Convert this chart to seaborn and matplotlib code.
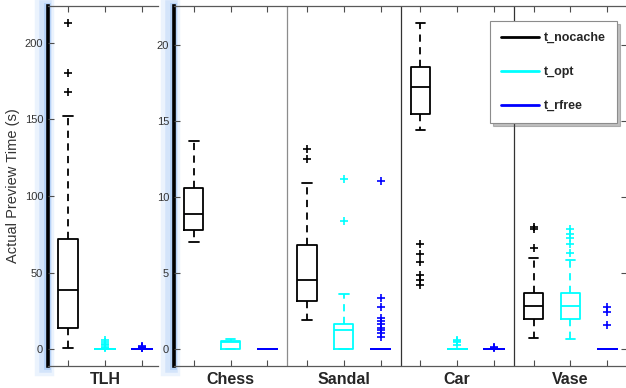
import numpy as np
import pandas as pd
import seaborn as sns
import matplotlib.pyplot as plt
import matplotlib.patheffects as pe
from matplotlib.lines import Line2D

# values (seconds); one small list per box
methods = ["t_nocache", "t_opt", "t_rfree"]
colors = ["black", "#00ffff", "#0000ff"]
scenes_right = ["Chess", "Sandal", "Car", "Vase"]

tlh_nocache = [1, 4, 8, 11, 13.7, 20, 27, 33, 38.6, 47, 55, 64, 72, 152, 168, 180, 213]
tlh_opt = [0.0] * 19 + [0.8, 1.5, 2.5, 3.5, 4.5, 5.8]
tlh_rfree = [0.0] * 13 + [0.5, 1.0, 1.5, 2.0]

chess_nocache = [7.04, 7.4, 7.83, 8.3, 8.88, 9.6, 10.6, 12.0, 13.7]
chess_opt = [0, 0, 0, 0.2, 0.5, 0.52, 0.55, 0.6, 0.66]
chess_rfree = [0.01, 0.015, 0.02, 0.02, 0.02, 0.025, 0.03, 0.03, 0.035]

sandal_nocache = [1.95, 2.3, 2.7, 3.0, 3.18, 3.6, 4.0, 4.3, 4.58, 5.2, 5.8, 6.4, 6.84,
                  8.6, 10.97, 12.5, 13.16]
sandal_opt = [0, 0, 0, 0, 0, 0.4, 0.8, 1.0, 1.25, 1.35, 1.45, 1.6, 1.69, 2.5, 3.66, 8.44, 11.18]
sandal_rfree = [0.02] * 31 + [0.81, 1.1, 1.25, 1.4, 1.64, 1.86, 2.08, 2.78, 3.38, 11.07]

car_nocache = [4.2, 4.54, 4.87, 5.75, 6.3, 6.95, 14.45, 15.5, 15.8, 16.1, 16.4, 16.7, 16.9,
               17.1, 17.3, 17.5, 17.7, 17.9, 18.1, 18.3, 18.45, 18.6, 19.0, 19.5, 20.0,
               20.5, 21.0, 21.3, 21.5]
car_opt = [0.0] * 13 + [0.3, 0.45, 0.55, 0.62]
car_rfree = [0.05] * 13 + [0.1, 0.12]

vase_nocache = [0.74, 1.1, 1.4, 1.6, 1.8, 2.02, 2.2, 2.4, 2.55, 2.7, 2.83, 3.0, 3.2, 3.4,
                3.55, 3.7, 4.5, 6.03, 6.69, 7.9, 8.05]
vase_opt = [0.7, 1.0, 1.3, 1.5, 1.7, 1.9, 2.02, 2.2, 2.35, 2.5, 2.6, 2.7, 2.83, 3.0, 3.15,
            3.3, 3.45, 3.6, 3.7, 5.86, 6.34, 6.9, 7.34, 7.6, 7.94]
vase_rfree = [0.02] * 13 + [1.58, 2.45, 2.78]

box_data = {
    ("TLH", "t_nocache"): tlh_nocache, ("TLH", "t_opt"): tlh_opt, ("TLH", "t_rfree"): tlh_rfree,
    ("Chess", "t_nocache"): chess_nocache, ("Chess", "t_opt"): chess_opt, ("Chess", "t_rfree"): chess_rfree,
    ("Sandal", "t_nocache"): sandal_nocache, ("Sandal", "t_opt"): sandal_opt, ("Sandal", "t_rfree"): sandal_rfree,
    ("Car", "t_nocache"): car_nocache, ("Car", "t_opt"): car_opt, ("Car", "t_rfree"): car_rfree,
    ("Vase", "t_nocache"): vase_nocache, ("Vase", "t_opt"): vase_opt, ("Vase", "t_rfree"): vase_rfree,
}

rows = []
for (scene, method), vals in box_data.items():
    for v in vals:
        rows.append({"scene": scene, "method": method, "time": v})
df = pd.DataFrame(rows)

sns.set_style("white")
plt.rcParams["font.family"] = ["Liberation Sans", "DejaVu Sans"]

fig = plt.figure(figsize=(6.26, 3.88), dpi=100)
W, H = 626.0, 388.0
ax_l = fig.add_axes([48 / W, 22 / H, 110 / W, 360 / H])
ax_r = fig.add_axes([174 / W, 22 / H, 453 / W, 360 / H])

box_kws = dict(x="scene", y="time", hue="method", hue_order=methods, palette=colors,
               fill=False, width=0.975, gap=0.48, whis=1.5, linewidth=1.3,
               flierprops=dict(marker="+", markersize=6, markeredgewidth=1.2),
               whiskerprops=dict(linestyle=(0, (4, 3))), legend=False)

sns.boxplot(data=df[df.scene == "TLH"], order=["TLH"], ax=ax_l, **box_kws)
sns.boxplot(data=df[df.scene != "TLH"], order=scenes_right, ax=ax_r, **box_kws)

ax_l.set_xlim(-0.5, 0.465)
ax_l.set_ylim(-11, 224)
ax_l.set_yticks([0, 50, 100, 150, 200])
ax_r.set_xlim(-0.5, 3.5)
ax_r.set_ylim(-1.1, 22.6)
ax_r.set_yticks([0, 5, 10, 15, 20])

for i, c in zip([0.5, 1.5, 2.5], ["0.55", "0.2", "0.2"]):
    ax_r.axvline(i, color=c, lw=0.9, zorder=1)

offs = [-0.325, 0.0, 0.325]
for ax, n in ((ax_l, 1), (ax_r, 4)):
    ax.set_xticks(range(n))
    ax.set_xticks([g + o for g in range(n) for o in offs if o != 0], minor=True)
    ax.tick_params(axis="x", which="both", direction="in", length=4, top=True,
                   bottom=True, color="0.3", width=0.8)
    ax.tick_params(axis="x", which="major", labelsize=11.5, pad=4)
    for t in ax.get_xticklabels():
        t.set_fontweight("bold")
    ax.tick_params(axis="y", direction="in", length=4, left=True, right=True,
                   labelsize=8, labelcolor="#333333", color="0.3", width=0.8)
    ax.set_xlabel("")
    ax.set_ylabel("")
    for s in ("top", "bottom", "right"):
        ax.spines[s].set_color("0.35")
        ax.spines[s].set_linewidth(0.9)
    # thick left axis with a soft blue glow behind it
    sp = ax.spines["left"]
    sp.set_color("black")
    sp.set_linewidth(2.6)
    sp.set_zorder(0.5)
    sp.set_path_effects([
        pe.Stroke(offset=(-3, 0), linewidth=14, foreground="#e3eefd", alpha=0.7),
        pe.Stroke(offset=(-2, 0), linewidth=9, foreground="#c9defa", alpha=0.7),
        pe.Stroke(offset=(-1, 0), linewidth=5, foreground="#a9cbf6", alpha=0.7),
        pe.Normal()])

ax_l.spines["right"].set_visible(False)
ax_l.tick_params(axis="y", right=False)
ax_l.set_ylabel("Actual Preview Time (s)", fontsize=10.5, color="#333333", labelpad=3)

handles = [Line2D([], [], color=c, lw=2) for c in colors]
leg = fig.legend(handles, methods, loc="upper right", bbox_to_anchor=(617 / W, 1 - 21 / H),
                 frameon=True, fancybox=False,
                 shadow={"ox": 2, "oy": -2, "alpha": 0.35},
                 edgecolor="0.55", labelspacing=1.75, handlelength=3.0, handletextpad=0.4,
                 borderpad=0.9, borderaxespad=0, prop=dict(weight="bold", size=9))
leg.get_frame().set_linewidth(0.8)

fig.savefig("out.png", dpi=100)
